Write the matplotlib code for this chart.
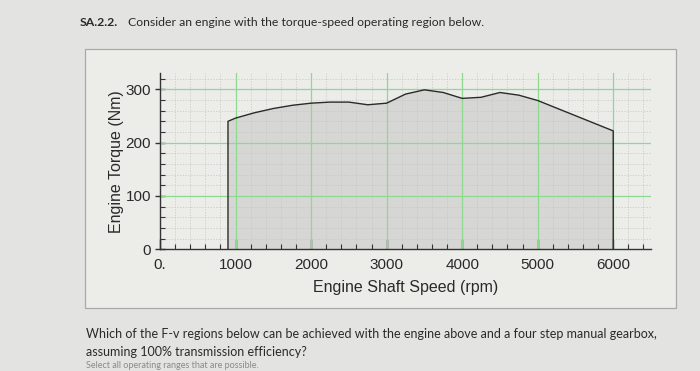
import matplotlib
matplotlib.use("Agg")
import matplotlib.pyplot as plt
from matplotlib.patches import Rectangle
from matplotlib.ticker import FixedLocator

# Data
speed_rpm = [900, 1000, 1250, 1500, 1750, 2000, 2250, 2500, 2750, 3000,
             3250, 3500, 3750, 4000, 4250, 4500, 4750, 5000, 6000]
torque_nm = [240, 246, 256, 264, 270, 274, 276, 276, 271, 274,
             291, 299, 294, 283, 285, 294, 289, 279, 222]
x_ticks = [0, 1000, 2000, 3000, 4000, 5000, 6000]
x_tick_labels = ["0.", "1000", "2000", "3000", "4000", "5000", "6000"]
y_ticks = [0, 100, 200, 300]

W, H = 700, 371
fig = plt.figure(figsize=(7.0, 3.71), dpi=100)
fig.patch.set_facecolor("#e3e3e1")

def fx(px):
    return px / W

def fy(py):
    return 1 - py / H

# panel
panel = Rectangle((fx(85), fy(308)), fx(676) - fx(85), fy(49) - fy(308),
                  transform=fig.transFigure, facecolor="#ecece9",
                  edgecolor="#a9a9a7", lw=0.9, zorder=-5)
fig.patches.append(panel)

font = ["Liberation Sans", "DejaVu Sans"]
tfont = ["Lato", "DejaVu Sans"]

fig.text(fx(80), fy(22), "SA.2.2.", fontsize=8.8, fontweight="bold",
         family=tfont, color="#2a2a2a", va="center", ha="left")
fig.text(fx(128), fy(22), "Consider an engine with the torque-speed operating region below.",
         fontsize=8.8, family=tfont, color="#2a2a2a", va="center", ha="left")

fig.text(fx(86), fy(334),
         "Which of the F-v regions below can be achieved with the engine above and a four step manual gearbox,",
         fontsize=9.0, family=tfont, color="#2a2a2a", va="center", ha="left")
fig.text(fx(86), fy(352), "assuming 100% transmission efficiency?",
         fontsize=9.0, family=tfont, color="#2a2a2a", va="center", ha="left")
fig.text(fx(86), fy(370), "Select all operating ranges that are possible.",
         fontsize=6.5, family=tfont, color="#8a8a8a", va="bottom", ha="left")

# axes
left, right = 160, 651
bottom, top = 249.3, 73.3
ax = fig.add_axes([fx(left), fy(bottom), fx(right) - fx(left), fy(top) - fy(bottom)])
ax.set_zorder(2)
ax.set_facecolor("none")
ax.set_xlim(0, 6500)
ax.set_ylim(0, 330)

xs = [speed_rpm[0]] + speed_rpm + [speed_rpm[-1]]
ys = [0] + torque_nm + [0]
ax.fill(xs, ys, facecolor="#d6d6d4", edgecolor="none", zorder=1)
ax.plot(xs, ys, color="#2b2b2b", lw=1.0, zorder=3)

ax.set_xticks(x_ticks)
ax.set_xticklabels(x_tick_labels)
ax.set_yticks(y_ticks)
ax.xaxis.set_minor_locator(FixedLocator([v for v in range(0, 6501, 200) if v % 1000]))
ax.yaxis.set_minor_locator(FixedLocator([v for v in range(0, 331, 20) if v % 100]))

# minor dashed grid, then green major grid on top
ax.grid(which="minor", color="#c6c6c4", lw=0.5, ls=(0, (2, 2)))
for xv in x_ticks[1:]:
    ax.axvline(xv, color="#8fd88f", lw=0.9, zorder=2.7)
for yv in y_ticks[1:]:
    ax.axhline(yv, color="#8fd88f", lw=0.9, zorder=2.7)
ax.set_axisbelow(False)

for s in ["top", "right"]:
    ax.spines[s].set_visible(False)
for s in ["left", "bottom"]:
    ax.spines[s].set_color("#333333")
    ax.spines[s].set_linewidth(1.0)
    ax.spines[s].set_zorder(4)

ax.tick_params(axis="both", which="major", labelsize=11, colors="#333333",
               labelcolor="#2a2a2a", length=7, width=1.0)
ax.tick_params(axis="y", which="major", direction="inout", pad=3)
ax.tick_params(axis="x", which="major", direction="in", pad=6)
ax.tick_params(axis="both", which="minor", direction="in", length=3.5, width=0.8,
               colors="#333333")
for lab in ax.get_xticklabels() + ax.get_yticklabels():
    lab.set_family(font)

ax.set_xlabel("Engine Shaft Speed (rpm)", fontsize=11.5, family=font,
              color="#2a2a2a", labelpad=6)
ax.set_ylabel("Engine Torque (Nm)", fontsize=11.5, family=font,
              color="#2a2a2a", labelpad=1)

fig.savefig("out.png", dpi=100, facecolor=fig.get_facecolor())
